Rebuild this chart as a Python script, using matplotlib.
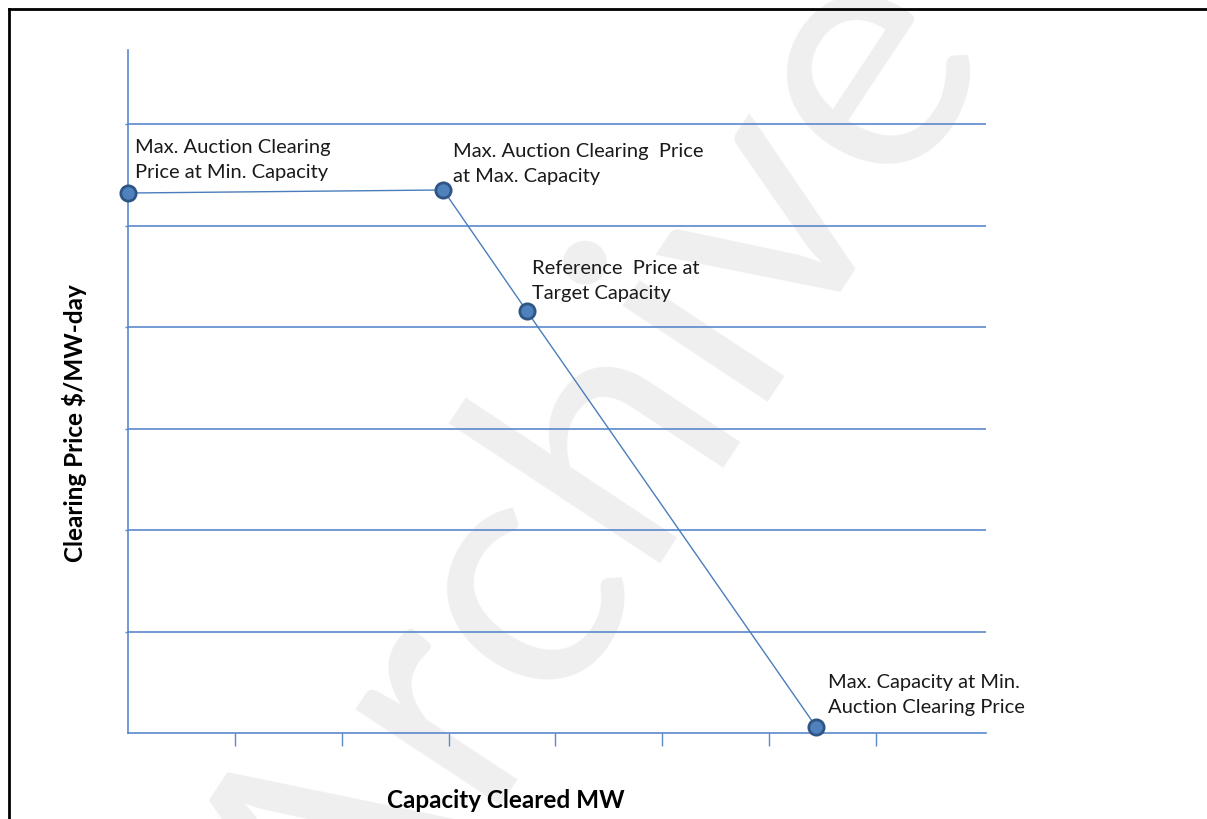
"""
Capacity auction demand curve sketch
Clearing price vs capacity cleared, with the four anchor points.
"""

import matplotlib
matplotlib.use('Agg')
import matplotlib.pyplot as plt
from matplotlib.lines import Line2D

# Demand curve anchor points (axis units: one grid step each way)
capacity = [0.0, 2.95, 3.73, 6.44]
price = [5.32, 5.35, 4.16, 0.06]
point_labels = [
    'Max. Auction Clearing\nPrice at Min. Capacity',
    'Max. Auction Clearing  Price\nat Max. Capacity',
    'Reference  Price at\nTarget Capacity',
    'Max. Capacity at Min.\nAuction Clearing Price',
]
# label offsets from each point, in pixels (right, up)
label_offsets = [(7, 15), (10, 8), (5, 12), (12, 14)]

x_ticks = [1, 2, 3, 4, 5, 6, 7]
grid_levels = [1, 2, 3, 4, 5, 6]

# Colours
LINE_BLUE = '#4a7ebb'
GRID_BLUE = '#5a89cc'
MARKER_FILL = '#4f81bd'
MARKER_EDGE = '#2f5585'
WATERMARK = '#efefef'

FONT = 'Lato'

W, H = 1207, 819
fig = plt.figure(figsize=(W / 100, H / 100), dpi=100)
fig.patch.set_facecolor('white')

# Watermark behind everything
fig.text(598 / W, 1 - 482 / H, 'Archive', fontsize=248, color=WATERMARK,
         rotation=56.5, ha='center', va='center', family=FONT, zorder=-5)

# Axes placed so that one x unit ~ 107 px and one y unit ~ 101.5 px
x_max, y_max = 8.03, 6.73
ax = fig.add_axes([128 / W, (H - 733) / H, x_max * 106.86 / W, y_max * 101.5 / H])
ax.set_zorder(1)
ax.patch.set_alpha(0)
ax.set_xlim(0, x_max)
ax.set_ylim(0, y_max)

for side in ['top', 'right']:
    ax.spines[side].set_visible(False)
for side in ['left', 'bottom']:
    ax.spines[side].set_color(GRID_BLUE)
    ax.spines[side].set_linewidth(1.2)

for level in grid_levels:
    ax.axhline(level, color=GRID_BLUE, linewidth=1.2, zorder=1)

ax.set_xticks(x_ticks)
ax.set_xticklabels([])
ax.set_yticks(grid_levels)
ax.set_yticklabels([])
ax.tick_params(axis='x', direction='out', length=9.5, width=1.0, color=GRID_BLUE)
ax.tick_params(axis='y', direction='out', length=2.5, width=1.0, color=GRID_BLUE)

# Demand curve
ax.plot(capacity, price, color=LINE_BLUE, linewidth=1.0, zorder=3, clip_on=False)
ax.plot(capacity, price, linestyle='none', marker='o', markersize=11,
        markerfacecolor=MARKER_FILL, markeredgecolor=MARKER_EDGE,
        markeredgewidth=2, zorder=4, clip_on=False)

for x, y, text, (dx, dy) in zip(capacity, price, point_labels, label_offsets):
    ax.annotate(text, xy=(x, y), xytext=(dx, dy), textcoords='offset pixels',
                ha='left', va='baseline', fontsize=14.5, family=FONT,
                color='#1a1a1a', linespacing=1.55)

fig.text(506 / W, 1 - 800 / H, 'Capacity Cleared MW', fontsize=17.5,
         fontweight='bold', family=FONT, ha='center', va='center')
fig.text(75 / W, 1 - 423 / H, 'Clearing Price $/MW-day', fontsize=17.5,
         fontweight='bold', family=FONT, ha='center', va='center', rotation=90)

# Page frame (left and top edges only are visible)
fig.add_artist(Line2D([9 / W, 9 / W], [0, 1 - 9 / H], color='black',
                      linewidth=2, transform=fig.transFigure))
fig.add_artist(Line2D([9 / W, 1], [1 - 9 / H, 1 - 9 / H], color='black',
                      linewidth=2, transform=fig.transFigure))

fig.savefig('out.png', dpi=100)
